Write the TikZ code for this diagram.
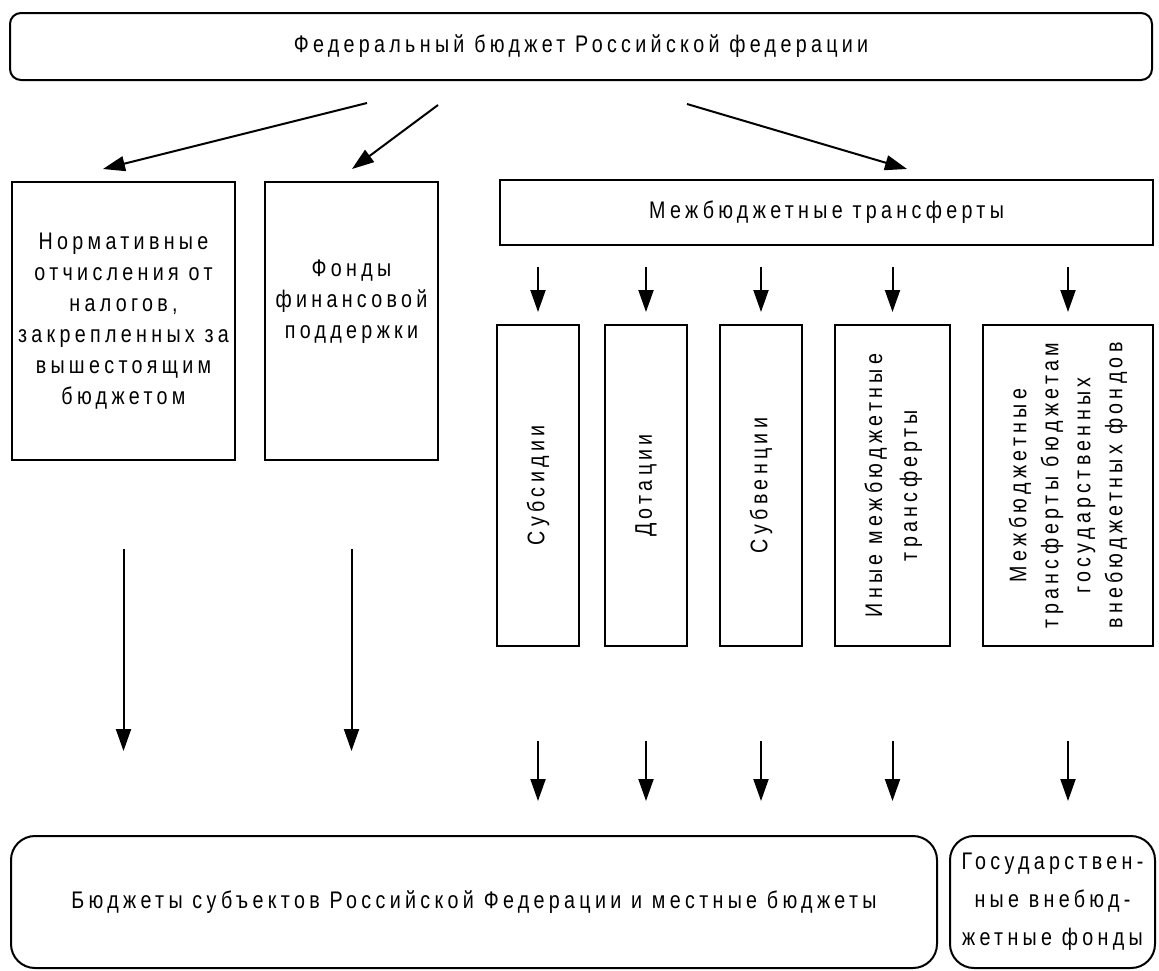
\documentclass[tikz,border=0pt]{standalone}
\usepackage{fontspec}
\usepackage{graphicx}
\setmainfont[LetterSpace=18, FakeStretch=0.82]{Liberation Sans}
\usetikzlibrary{arrows.meta}

\begin{document}
\begin{tikzpicture}[x=1pt, y=-1pt, >={Triangle[length=22pt, width=15pt]},
    font=\fontsize{24}{31}\selectfont,
    box/.style={draw, line width=2pt, inner sep=0pt, align=center},
    vbox/.style={box, minimum width=#1, minimum height=321},
    arr/.style={->, line width=2pt}]
    \useasboundingbox (0,0) rectangle (1159,970);

    % 1. Федеральный бюджет
    \node[box, rounded corners=11pt, minimum width=1142, minimum height=67] (fed) at (581,46.5)
        {Федеральный бюджет Российской федерации};

    % 2. Второй ряд блоков
    \node[box, minimum width=223, minimum height=278] (norm) at (123.5,321)
        {Нормативные\\отчисления от\\налогов,\\закрепленных за\\вышестоящим\\бюджетом};
    \node[box, minimum width=173, minimum height=278] (fond) at (351.5,321) {};
    \node[align=center] (fondtxt) at (351.5,302) {Фонды\\финансовой\\поддержки};
    \node[box, minimum width=653, minimum height=65] (mezh) at (826.5,212.5)
        {Межбюджетные трансферты};

    % 3. Виды трансфертов (вертикальный текст)
    \node[vbox=82] (subs) at (538,485.5) {\rotatebox{90}{Субсидии}};
    \node[vbox=82] (dot) at (646,485.5) {\rotatebox{90}{Дотации}};
    \node[vbox=82] (subv) at (761,485.5) {\rotatebox{90}{Субвенции}};
    \node[vbox=115, font=\fontsize{24}{35}\selectfont] (inye) at (892.5,485.5)
        {\rotatebox{90}{\begin{tabular}{@{}c@{}}Иные межбюджетные\\трансферты\end{tabular}}};
    \node[vbox=170, font=\fontsize{24}{32}\selectfont] (vnb) at (1068,485.5)
        {\rotatebox{90}{\begin{tabular}{@{}c@{}}Межбюджетные\\трансферты бюджетам\\государственных\\внебюджетных фондов\end{tabular}}};

    % 4. Получатели
    \node[box, rounded corners=24pt, minimum width=926, minimum height=132] (sub) at (474,902)
        {Бюджеты субъектов Российской Федерации и местные бюджеты};
    \node[box, rounded corners=24pt, minimum width=205, minimum height=132,
        font=\fontsize{24}{38}\selectfont] (gvf) at (1052.5,902)
        {Государствен-\\ные внебюд-\\жетные фонды};

    % 5. Стрелки от федерального бюджета
    \coordinate (a1s) at (367,103);
    \coordinate (a1e) at (103,169);
    \coordinate (a2s) at (438,105);
    \coordinate (a2e) at (352,169);
    \coordinate (a3s) at (687,104);
    \coordinate (a3e) at (907,169);
    \draw[arr] (a1s) -- (a1e);
    \draw[arr] (a2s) -- (a2e);
    \draw[arr] (a3s) -- (a3e);

    % 6. Короткие стрелки над и под трансфертами
    \foreach \n in {subs,dot,subv,inye,vnb} {
        \draw[arr] ([yshift=57pt]\n.north) -- ([yshift=12pt]\n.north);
        \draw[arr] ([yshift=-94pt]\n.south) -- ([yshift=-154pt]\n.south);
    }

    % 7. Длинные стрелки вниз
    \draw[arr] ([yshift=-88pt]norm.south) -- ([yshift=-290pt]norm.south);
    \draw[arr] ([yshift=-88pt]fond.south) -- ([yshift=-290pt]fond.south);
\end{tikzpicture}
\end{document}
